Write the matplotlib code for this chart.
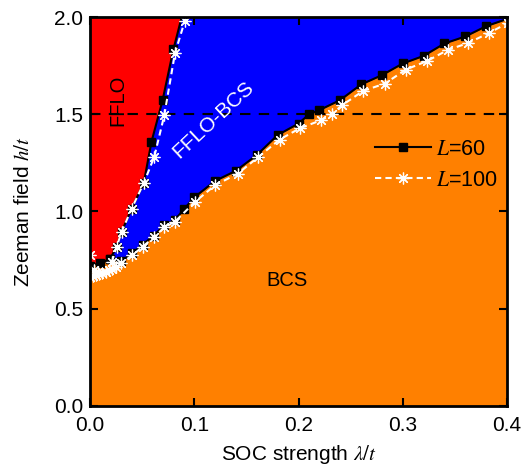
import matplotlib
matplotlib.use("Agg")
import matplotlib.pyplot as plt
import numpy as np

plt.rcParams['font.family'] = ['Liberation Sans', 'DejaVu Sans']
plt.rcParams['mathtext.fontset'] = 'stix'

# L=60: frontera inferior (FFLO-BCS / BCS)
lam60_low = [0.0, 0.01, 0.019, 0.030, 0.0406, 0.0505, 0.061, 0.0713, 0.0815, 0.09, 0.10,
             0.12, 0.14, 0.16, 0.18, 0.20, 0.21, 0.22, 0.24, 0.26, 0.28, 0.30,
             0.32, 0.34, 0.36, 0.38, 0.40]
h60_low = [0.72, 0.735, 0.753, 0.743, 0.785, 0.828, 0.876, 0.928, 0.957, 1.01, 1.072,
           1.157, 1.209, 1.29, 1.393, 1.452, 1.499, 1.521, 1.573, 1.653, 1.701, 1.761,
           1.80, 1.864, 1.90, 1.953, 1.99]
# L=60: frontera FFLO / FFLO-BCS
lam60_fflo = [0.019, 0.0256, 0.0304, 0.040, 0.0515, 0.059, 0.0697, 0.080, 0.088]
h60_fflo = [0.753, 0.818, 0.895, 1.015, 1.144, 1.358, 1.573, 1.833, 2.0]

# L=100
lam100_low = [0.0, 0.003, 0.006, 0.009, 0.012, 0.015, 0.018, 0.021, 0.025, 0.030,
              0.0406, 0.0505, 0.061, 0.0713, 0.0815, 0.1007, 0.12, 0.142, 0.161,
              0.182, 0.201, 0.222, 0.232, 0.242, 0.262, 0.283, 0.303, 0.323, 0.343,
              0.363, 0.383, 0.401]
h100_low = [0.665, 0.668, 0.672, 0.677, 0.683, 0.69, 0.697, 0.705, 0.715, 0.733,
            0.775, 0.818, 0.866, 0.918, 0.947, 1.049, 1.135, 1.195, 1.278,
            1.37, 1.427, 1.47, 1.50, 1.547, 1.62, 1.658, 1.73, 1.773, 1.83,
            1.867, 1.919, 1.97]
lam100_fflo = [0.021, 0.0256, 0.0304, 0.040, 0.0515, 0.0617, 0.0713, 0.0815, 0.091]
h100_fflo = [0.74, 0.818, 0.895, 1.015, 1.144, 1.281, 1.495, 1.813, 1.98]
lam100_extra = [0.0, 0.004, 0.008]
h100_extra = [0.775, 0.70, 0.69]

h_dash = 1.5

red = '#FF0000'
blue = '#0000FF'
orange = '#FF8000'

fig = plt.figure(figsize=(5.26, 4.73), dpi=100)
ax = fig.add_axes([0.171, 0.142, 0.793, 0.822])
ax.set_facecolor(blue)

# regiones
ax.fill_between(lam60_low, 0, h60_low, color=orange, lw=0, zorder=1)
xr = [0.0] + lam60_low[:2] + lam60_fflo + [0.0]
yr = [h60_low[0]] + h60_low[:2] + h60_fflo + [2.0]
ax.fill(xr, yr, color=red, lw=0, zorder=1)

ax.axhline(h_dash, color='black', ls=(0, (5, 4)), lw=1.5, zorder=2)

# L=60
ax.plot(lam60_low, h60_low, color='black', lw=1.5, marker='s', ms=5.5,
        markevery=list(range(len(lam60_low) - 1)), zorder=3)
ax.plot(lam60_fflo, h60_fflo, color='black', lw=1.5, marker='s', ms=5.5,
        markevery=list(range(len(lam60_fflo) - 1)), zorder=3)

# L=100
star = (8, 2, 0)
ax.plot(lam100_low, h100_low, color='white', lw=1.5, ls=(0, (3, 2)),
        marker=star, ms=8.5, mew=0.9, zorder=4)
ax.plot(lam100_fflo, h100_fflo, color='white', lw=1.5, ls=(0, (3, 2)),
        marker=star, ms=8.5, mew=0.9, zorder=4)
ax.plot(lam100_extra, h100_extra, ls='none', color='white',
        marker=star, ms=8.5, mew=0.9, zorder=4)

# leyenda
h1, = ax.plot([], [], color='black', lw=1.5, marker='s', ms=5.5)
h2, = ax.plot([], [], color='white', lw=1.5, ls=(0, (3, 2)), marker=star, ms=8.5, mew=0.9)
ax.legend([h1, h2], ['$L$=60', '$L$=100'], frameon=False, fontsize=15.5,
          loc='center left', bbox_to_anchor=(0.683, 0.62), handlelength=2.6,
          handletextpad=0.25, labelspacing=0.45, borderpad=0, borderaxespad=0)

ax.text(0.027, 1.572, 'FFLO', rotation=90, fontsize=14.5, ha='center', va='center')
ax.text(0.118, 1.47, 'FFLO-BCS', rotation=43, fontsize=15, color='white',
        ha='center', va='center')
ax.text(0.189, 0.645, 'BCS', fontsize=14.5, ha='center', va='center')

ax.set_xlim(0, 0.4)
ax.set_ylim(0, 2.0)
ax.set_xticks([0.0, 0.1, 0.2, 0.3, 0.4])
ax.set_yticks([0.0, 0.5, 1.0, 1.5, 2.0])
ax.xaxis.set_major_formatter(matplotlib.ticker.FormatStrFormatter('%.1f'))
ax.yaxis.set_major_formatter(matplotlib.ticker.FormatStrFormatter('%.1f'))
ax.tick_params(direction='in', length=6, width=1.5, labelsize=15,
               top=True, right=True, pad=5)
ax.tick_params(axis='x', pad=7)
for s in ax.spines.values():
    s.set_linewidth(2)
    s.set_zorder(6)

ax.set_xlabel(r'SOC strength $\lambda/t$', fontsize=15, labelpad=6)
ax.set_ylabel(r'Zeeman field $h/t$', fontsize=15, labelpad=15)

fig.savefig('out.png', dpi=100)
